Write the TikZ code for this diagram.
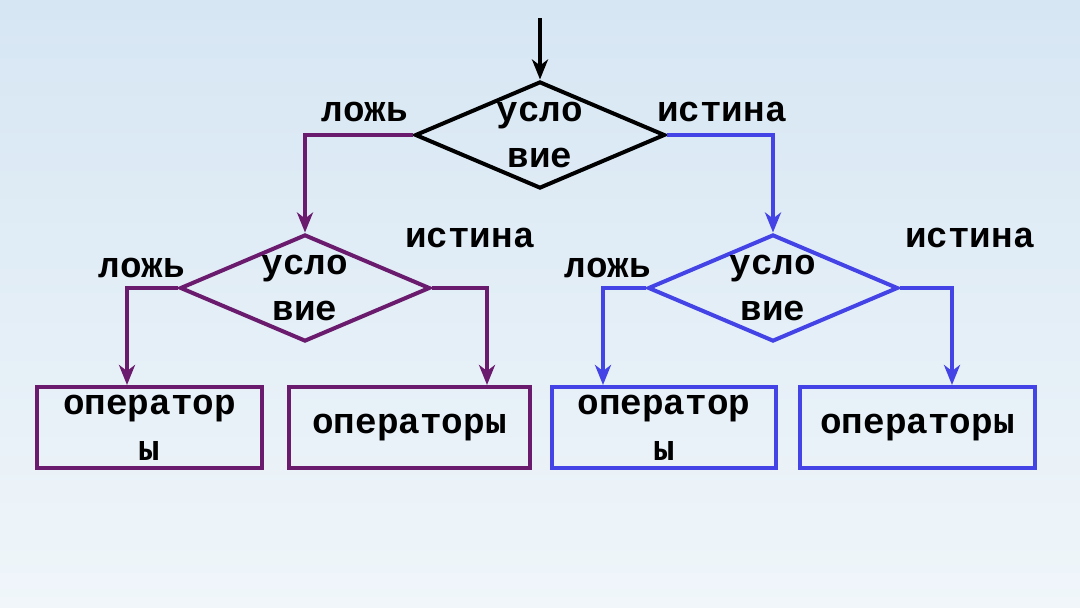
\documentclass[tikz,border=0pt]{standalone}
\usepackage{fontspec}
\setmainfont{Liberation Mono}
\usetikzlibrary{arrows.meta,shapes.geometric}
\definecolor{pur}{HTML}{6A1B6E}
\definecolor{blu}{HTML}{4343E6}
\begin{document}
\begin{tikzpicture}[x=1pt,y=-1pt,
  txt/.style={font=\fontsize{36}{46}\selectfont\bfseries,text=black,align=center},
  dia/.style={draw,line width=4pt,diamond,minimum width=250pt,minimum height=107pt,inner sep=0pt},
  box/.style={draw,line width=4pt,inner sep=0pt,minimum height=81pt},
  arr/.style={line width=3.5pt,-{Stealth[length=20pt,width=16pt,inset=6pt]}}]
\shade[top color={rgb,255:red,214;green,230;blue,243},bottom color={rgb,255:red,240;green,246;blue,250}] (0,0) rectangle (1080,608);
\useasboundingbox (0,0) rectangle (1080,608);
\coordinate (in) at (540,18);
\node[dia] (d0) at (540,135) {};
\node[dia,pur] (d1) at (305,288) {};
\node[dia,blu] (d2) at (773,288) {};
\node[txt] (d0t) at (d0) {усло\\вие};
\node[txt] (d1t) at (d1) {усло\\вие};
\node[txt] (d2t) at (d2) {усло\\вие};
\node[box,pur,minimum width=225pt] (b1) at (149.5,427.5) {};
\node[box,pur,minimum width=241pt] (b2) at (409.5,427.5) {};
\node[box,blu,minimum width=224pt] (b3) at (664,427.5) {};
\node[box,blu,minimum width=235pt] (b4) at (917.5,427.5) {};
\node[txt] (b1t) at (b1) {оператор\\ы};
\node[txt] (b2t) at (b2) {операторы};
\node[txt] (b3t) at (b3) {оператор\\ы};
\node[txt] (b4t) at (b4) {операторы};
\draw[arr] (in) -- (d0.north);
\draw[arr,pur] (d0.west) -| (d1.north);
\draw[arr,blu] (d0.east) -| (d2.north);
\draw[arr,pur] (d1.west) -| (b1.north -| 127,0);
\draw[arr,pur] (d1.east) -| (b2.north -| 487,0);
\draw[arr,blu] (d2.west) -| (b3.north -| 603,0);
\draw[arr,blu] (d2.east) -| (b4.north -| 952,0);
\node[txt] (l0) at (365,112) {ложь};
\node[txt] (t0) at (722,112) {истина};
\node[txt] (l1) at (142,268) {ложь};
\node[txt] (t1) at (470,238) {истина};
\node[txt] (l2) at (608,268) {ложь};
\node[txt] (t2) at (970,238) {истина};
\end{tikzpicture}
\end{document}
